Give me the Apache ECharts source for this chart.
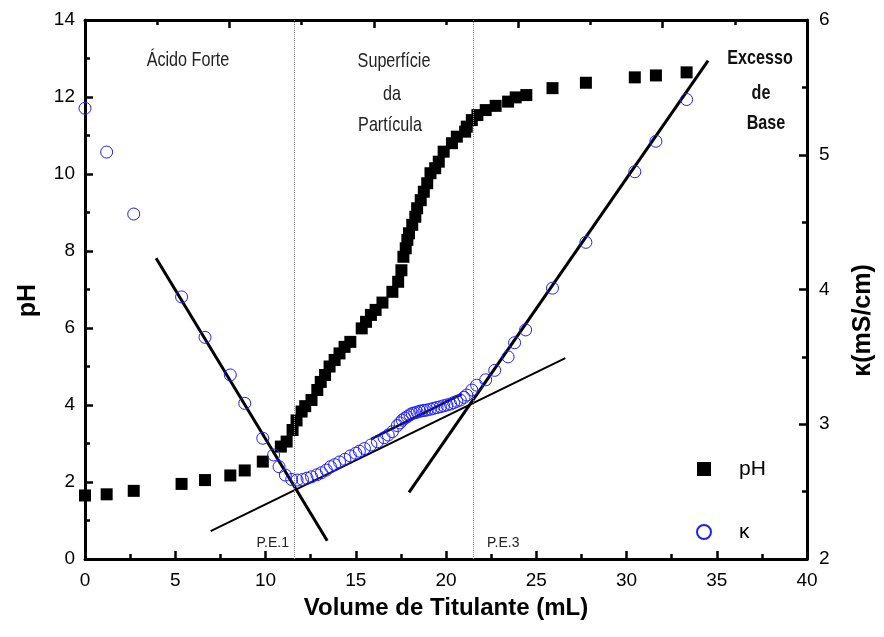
<!DOCTYPE html>
<html>
<head>
<meta charset="utf-8">
<script src="https://cdn.jsdelivr.net/npm/echarts@6/dist/echarts.min.js"></script>
<style>
html,body{margin:0;padding:0;background:#fff;}
#chart{width:884px;height:637px;}
</style>
</head>
<body>
<div id="chart"></div>
<script>
// ---- data ----
const volPH = [0,1.2,2.7,5.35,6.65,8.05,8.85,9.85,10.85,11.17,11.5,11.72,12.0,12.2,12.55,12.87,13.06,13.3,13.55,13.83,14.1,14.38,14.7,15.33,15.57,15.84,16.1,16.48,17.03,17.35,17.53,17.64,17.77,17.86,17.95,18.13,18.3,18.4,18.6,18.77,18.96,19.14,19.4,19.6,19.87,20.33,20.6,21.06,21.15,21.43,21.74,22.2,22.75,23.44,23.86,24.45,25.9,27.75,30.46,31.63,33.33];
const pH = [1.65,1.68,1.77,1.95,2.05,2.17,2.30,2.53,2.92,3.05,3.35,3.6,3.83,3.97,4.13,4.39,4.6,4.78,5.0,5.17,5.34,5.51,5.64,5.99,6.16,6.34,6.47,6.66,6.94,7.2,7.5,7.85,8.07,8.29,8.46,8.68,8.89,9.11,9.32,9.54,9.76,10.02,10.15,10.32,10.58,10.8,10.97,11.1,11.23,11.4,11.53,11.66,11.77,11.88,11.99,12.05,12.23,12.37,12.51,12.56,12.64];
const volK = [0,1.2,2.7,5.35,6.65,8.05,8.85,9.85,10.45,10.75,11.1,11.45,11.75,12.05,12.3,12.55,12.85,13.1,13.37,13.6,13.83,14.1,14.4,14.7,15.0,15.2,15.48,15.84,16.2,16.57,16.8,17.03,17.3,17.45,17.58,17.72,17.86,18.0,18.13,18.27,18.4,18.55,18.68,18.82,18.96,19.14,19.32,19.5,19.69,19.87,20.05,20.25,20.42,20.6,20.79,21.0,21.15,21.43,21.7,22.2,22.7,23.44,23.8,24.41,25.9,27.75,30.46,31.63,33.33];
const kappa = [5.345,5.02,4.56,3.945,3.645,3.366,3.155,2.896,2.772,2.685,2.623,2.59,2.586,2.59,2.6,2.61,2.625,2.64,2.66,2.685,2.70,2.72,2.74,2.765,2.785,2.80,2.82,2.846,2.87,2.90,2.92,2.945,2.99,3.01,3.03,3.045,3.056,3.07,3.08,3.085,3.09,3.097,3.10,3.103,3.106,3.112,3.118,3.124,3.13,3.137,3.143,3.15,3.16,3.17,3.18,3.2,3.217,3.254,3.29,3.33,3.40,3.50,3.605,3.70,4.01,4.35,4.874,5.10,5.41];
const fitA = [[3.94,4.232],[13.42,2.136]];
const fitB = [[6.96,2.207],[26.61,3.491]];
const fitC = [[17.95,2.495],[34.52,5.698]];
const fitD = [[15.84,2.89],[20.88,3.224]];
const peX = [11.6, 21.5];
const xTicks = [0,5,10,15,20,25,30,35,40];
const pHTicks = [0,2,4,6,8,10,12,14];
const kTicks = [2,3,4,5,6];

// ---- chart ----
const zip = (a,b) => a.map((v,i)=>[v,b[i]]);
const chart = echarts.init(document.getElementById('chart'));
const FONT = "'Liberation Sans', Arial, sans-serif";
const axisCommon = {
  axisLine:{show:true,onZero:false,lineStyle:{color:'#000',width:3}},
  axisTick:{show:true,inside:true,length:8,lineStyle:{color:'#000',width:2.5}},
  minorTick:{show:true,splitNumber:2,length:5,lineStyle:{color:'#000',width:2.5}},
  splitLine:{show:false}
};
const fitLine = (name,data,w)=>({
  name, type:'line', data, xAxisIndex:0, yAxisIndex:1, symbol:'none', silent:true,
  lineStyle:{color:'#000',width:w}, z:3
});
const note = (text,x,y,bold) => ({
  type:'text', x, y, scaleX:0.77, silent:true,
  style:{text, x:0, y:0, align:'center', verticalAlign:'middle',
    font:(bold?'bold ':'')+'21px '+FONT, fill: bold?'#111':'#222'}
});
const option = {
  animation:false,
  backgroundColor:'#fff',
  grid:{left:85,right:71,top:20,bottom:78,containLabel:false},
  xAxis:[
    Object.assign({}, axisCommon, {type:'value',position:'bottom',min:xTicks[0],max:xTicks[xTicks.length-1],interval:5,
      name:'Volume de Titulante (mL)',nameLocation:'middle',nameGap:37,
      nameTextStyle:{fontFamily:FONT,fontSize:24,fontWeight:'bold',color:'#000'},
      axisLabel:{color:'#000',fontFamily:FONT,fontSize:19,margin:12}}),
    Object.assign({}, axisCommon, {type:'value',position:'top',min:0,max:40,interval:8,
      axisLabel:{show:false}})
  ],
  yAxis:[
    Object.assign({}, axisCommon, {type:'value',position:'left',min:pHTicks[0],max:pHTicks[pHTicks.length-1],interval:2,
      name:'pH',nameLocation:'middle',nameGap:44,nameRotate:90,
      nameTextStyle:{fontFamily:FONT,fontSize:25,fontWeight:'bold',color:'#000',padding:[0,22,0,0]},
      axisLabel:{color:'#000',fontFamily:FONT,fontSize:19,margin:10}}),
    Object.assign({}, axisCommon, {type:'value',position:'right',min:kTicks[0],max:kTicks[kTicks.length-1],interval:1,
      name:'κ(mS/cm)',nameLocation:'middle',nameGap:44,nameRotate:90,
      nameTextStyle:{fontFamily:FONT,fontSize:25,fontWeight:'bold',color:'#000',padding:[0,62,0,0]},
      axisLabel:{color:'#000',fontFamily:FONT,fontSize:19,margin:12}})
  ],
  legend:{
    orient:'vertical', left:691, top:453, itemWidth:14, itemHeight:14, itemGap:41,
    data:['pH','κ'],
    textStyle:{fontFamily:FONT,fontSize:21,color:'#000',lineHeight:22,padding:[0,0,0,23]}
  },
  series:[
    fitLine('fitA',fitA,3),
    fitLine('fitB',fitB,2),
    fitLine('fitC',fitC,3),
    fitLine('fitD',fitD,2.5),
    {
      name:'pH', type:'scatter', xAxisIndex:0, yAxisIndex:0, data:zip(volPH,pH),
      symbol:'rect', symbolSize:12, itemStyle:{color:'#000',opacity:1}, z:4,
      markLine:{silent:true,symbol:'none',label:{show:false},
        lineStyle:{color:'#8a8a8a',type:'dotted',width:1},
        data:peX.map(v=>({xAxis:v}))}
    },
    {
      name:'κ', type:'scatter', xAxisIndex:0, yAxisIndex:1, data:zip(volK,kappa),
      symbol:'circle', symbolSize:12,
      itemStyle:{color:'rgba(255,255,255,0)',borderColor:'#1f1fff',borderWidth:1,opacity:1}, z:5
    }
  ],
  graphic:[
    note('Ácido Forte',188,60,false),
    note('Superfície',394,61,false),
    note('da',392,94,false),
    note('Partícula',390,125,false),
    note('Excesso',760,58,true),
    note('de',761,93,true),
    note('Base',766,123,true),
    {type:'text',silent:true,style:{text:'P.E.1',x:289,y:543,align:'right',verticalAlign:'middle',font:"14px "+FONT,fill:'#222'}},
    {type:'text',silent:true,style:{text:'P.E.3',x:487,y:543,align:'left',verticalAlign:'middle',font:"14px "+FONT,fill:'#222'}}
  ]
};
chart.setOption(option);
</script>
</body>
</html>
